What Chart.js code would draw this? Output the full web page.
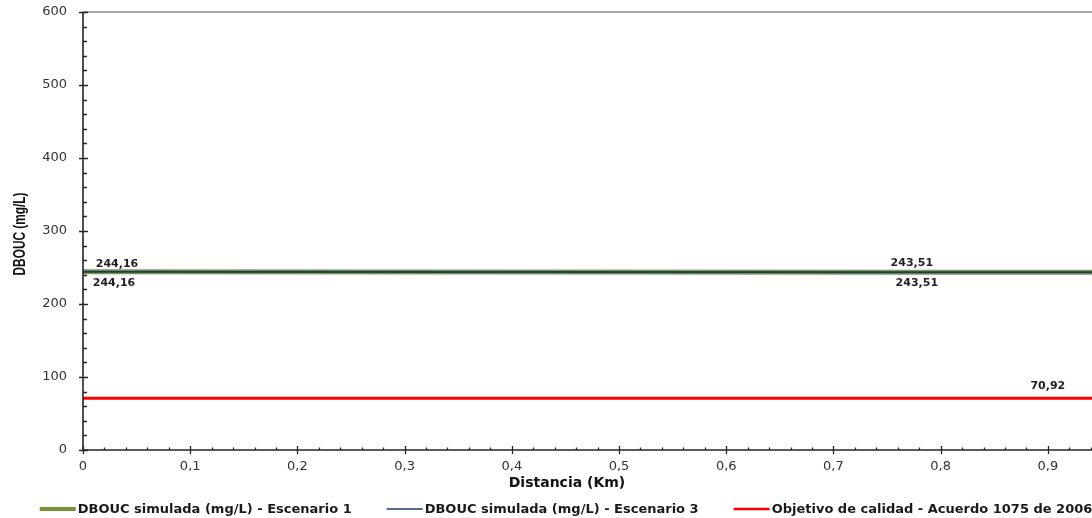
<!DOCTYPE html>
<html>
<head>
<meta charset="utf-8">
<script src="https://cdn.jsdelivr.net/npm/chart.js@4.4.1/dist/chart.umd.min.js"></script>
<style>
  html, body { margin: 0; padding: 0; background: #ffffff; overflow: hidden; }
  #wrap { width: 1092px; height: 518px; position: relative; }
</style>
</head>
<body>
<div id="wrap"><canvas id="c" width="1092" height="518"></canvas></div>
<script>
// Perfil de DBOUC a lo largo del tramo
const distanciaKm      = [0, 0.775, 0.9, 1.0];
const dboucEscenario1  = [244.16, 243.51, 243.51, 243.51];
const dboucEscenario3  = [244.16, 243.51, 243.51, 243.51];
const objetivoCalidad  = [70.92, 70.92, 70.92, 70.92];

const seriesNames = [
  'DBOUC simulada (mg/L) - Escenario 1',
  'DBOUC simulada (mg/L) - Escenario 3',
  'Objetivo de calidad - Acuerdo 1075 de 2006'
];
const xTickLabels = ['0', '0,1', '0,2', '0,3', '0,4', '0,5', '0,6', '0,7', '0,8', '0,9'];
const yTickValues = [0, 100, 200, 300, 400, 500, 600];
const xTitle = 'Distancia (Km)';
const yTitle = 'DBOUC (mg/L)';

// etiquetas de valor: serie, punto, desplazamiento
const valueLabels = [
  { ds: 0, idx: 0, dx: 34, dy: -8 },
  { ds: 1, idx: 0, dx: 31, dy: 11 },
  { ds: 0, idx: 1, dx: -2, dy: -9.5 },
  { ds: 1, idx: 1, dx: 3, dy: 11 },
  { ds: 2, idx: 2, dx: 0, dy: -12.5 }
];

const X_VISIBLE_MAX = 0.9412;
const toPoints = vals => vals.map((v, i) => ({ x: distanciaKm[i], y: v }));
const fmt = v => v.toFixed(2).replace('.', ',');

const decorPlugin = {
  id: 'decor',
  afterDraw(chart) {
    const ctx = chart.ctx;
    const xs = chart.scales.x, ys = chart.scales.y;
    const area = chart.chartArea;
    ctx.save();

    // marco superior gris
    ctx.strokeStyle = '#a8a8a8';
    ctx.lineWidth = 2;
    ctx.beginPath();
    ctx.moveTo(area.left, area.top);
    ctx.lineTo(area.right, area.top);
    ctx.stroke();

    // ejes
    ctx.strokeStyle = '#262626';
    ctx.lineWidth = 1.6;
    ctx.beginPath();
    ctx.moveTo(area.left, area.top);
    ctx.lineTo(area.left, area.bottom);
    ctx.lineTo(area.right, area.bottom);
    ctx.stroke();

    // marcas del eje Y (mayores cruzadas, menores hacia dentro)
    ctx.lineWidth = 1.3;
    ctx.beginPath();
    for (let v = 0; v <= 600; v += 20) {
      const y = Math.round(ys.getPixelForValue(v)) + 0.5;
      const major = v % 100 === 0;
      ctx.moveTo(area.left - (major ? 4 : 0), y);
      ctx.lineTo(area.left + (major ? 5 : 4), y);
    }
    // marcas del eje X
    for (let k = 0; k * 0.02 <= X_VISIBLE_MAX + 1e-9; k++) {
      const x = Math.round(xs.getPixelForValue(k * 0.02)) + 0.5;
      const major = k % 5 === 0;
      ctx.moveTo(x, area.bottom + (major ? 4 : 0));
      ctx.lineTo(x, area.bottom - (major ? 4 : 2.5));
    }
    ctx.stroke();

    // etiquetas de valor
    ctx.fillStyle = '#1f1f1f';
    ctx.font = 'bold 11px "DejaVu Sans", sans-serif';
    ctx.textAlign = 'center';
    ctx.textBaseline = 'middle';
    valueLabels.forEach(l => {
      const pt = chart.data.datasets[l.ds].data[l.idx];
      const px = xs.getPixelForValue(pt.x) + l.dx;
      const py = ys.getPixelForValue(pt.y) + l.dy;
      ctx.fillText(fmt(pt.y), px, py);
    });

    // títulos de ejes
    ctx.fillStyle = '#111111';
    ctx.font = 'bold 14px "DejaVu Sans", sans-serif';
    ctx.fillText(xTitle, 567, 483);
    ctx.save();
    ctx.translate(21, 234);
    ctx.rotate(-Math.PI / 2);
    ctx.scale(0.74, 1);
    ctx.font = 'bold 16px "Liberation Sans", sans-serif';
    ctx.fillText(yTitle, 0, 0);
    ctx.restore();

    // leyenda inferior
    ctx.font = 'bold 13px "DejaVu Sans", sans-serif';
    ctx.textAlign = 'left';
    const sampleW = 36, sampleGap = 2, itemGap = 35, legendY = 509, legendCenter = 566;
    const legendSeries = [0, 1, 2].map(i => chart.data.datasets[i]);
    const widths = legendSeries.map(d => sampleW + sampleGap + ctx.measureText(d.label).width);
    const total = widths.reduce((a, b) => a + b, 0) + itemGap * (widths.length - 1);
    let x = legendCenter - total / 2;
    legendSeries.forEach((d, i) => {
      ctx.strokeStyle = d.legendColor;
      ctx.lineWidth = d.legendWidth;
      ctx.beginPath();
      ctx.moveTo(x, legendY);
      ctx.lineTo(x + sampleW, legendY);
      ctx.stroke();
      ctx.fillStyle = '#1a1a1a';
      ctx.fillText(d.label, x + sampleW + sampleGap, legendY + 0.5);
      x += widths[i] + itemGap;
    });

    ctx.restore();
  }
};

new Chart(document.getElementById('c'), {
  type: 'line',
  data: {
    datasets: [
      {
        label: seriesNames[0],
        data: toPoints(dboucEscenario1),
        borderColor: '#7d9c42',
        legendColor: '#77933c',
        legendWidth: 4,
        borderWidth: 5,
        pointRadius: 0,
        tension: 0,
        order: 1
      },
      {
        label: seriesNames[1],
        data: toPoints(dboucEscenario3),
        borderColor: '#1f3868',
        legendColor: '#1f3868',
        legendWidth: 1.5,
        borderWidth: 2,
        pointRadius: 0,
        tension: 0,
        order: 0
      },
      {
        label: seriesNames[2],
        data: toPoints(objetivoCalidad),
        borderColor: '#ff0000',
        legendColor: '#ff0000',
        legendWidth: 2.5,
        borderWidth: 3,
        pointRadius: 0,
        tension: 0,
        order: 2
      }
    ]
  },
  options: {
    responsive: false,
    animation: false,
    devicePixelRatio: 1,
    layout: { padding: { top: 12, right: 0, left: 0, bottom: 0 } },
    plugins: { legend: { display: false }, tooltip: { enabled: false } },
    scales: {
      x: {
        type: 'linear',
        min: 0,
        max: X_VISIBLE_MAX,
        grid: { display: false, drawTicks: false },
        border: { display: false },
        afterBuildTicks: s => {
          s.ticks = xTickLabels.map((_, i) => ({ value: i / 10 }));
        },
        afterFit: s => { s.height = 68; s.paddingLeft = 0; s.paddingRight = 0; },
        ticks: {
          padding: 9,
          autoSkip: false,
          maxRotation: 0,
          color: '#333333',
          font: { family: '"DejaVu Sans", sans-serif', size: 13 },
          callback: (v) => xTickLabels[Math.round(v * 10)]
        }
      },
      y: {
        min: 0,
        max: 600,
        grid: { display: false, drawTicks: false },
        border: { display: false },
        afterBuildTicks: s => {
          s.ticks = yTickValues.map(v => ({ value: v }));
        },
        afterFit: s => { s.width = 83; s.paddingTop = 0; s.paddingBottom = 0; },
        ticks: {
          padding: 16,
          color: '#333333',
          font: { family: '"DejaVu Sans", sans-serif', size: 13 },
          callback: v => String(v)
        }
      }
    }
  },
  plugins: [decorPlugin]
});
</script>
</body>
</html>
